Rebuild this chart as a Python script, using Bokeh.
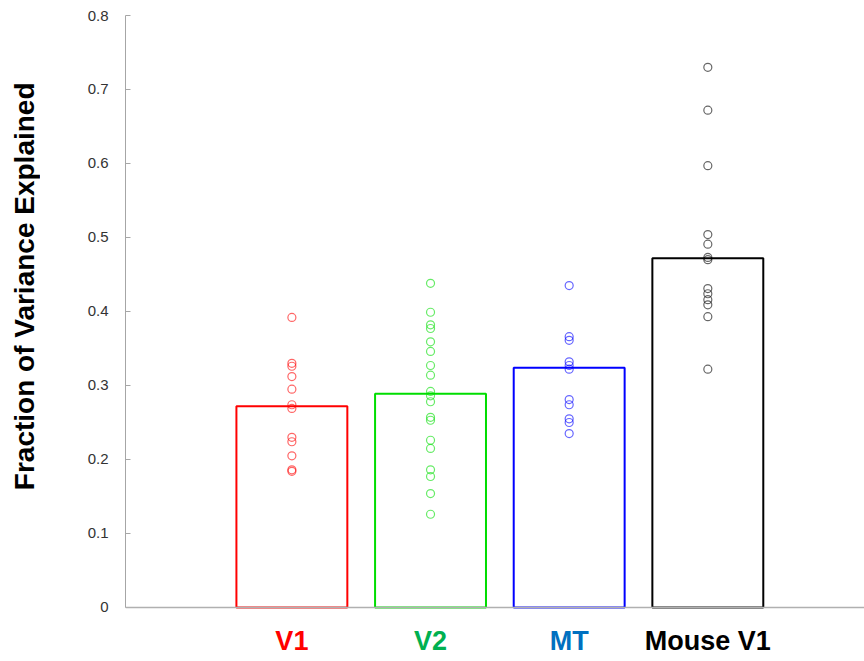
import math
from bokeh.plotting import figure
from bokeh.layouts import row
from bokeh.models import FixedTicker, Range1d, Span, ColumnDataSource
from bokeh.core.properties import value
from bokeh.embed import file_html
from bokeh.resources import INLINE

# ---- data ----
categories = ["V1", "V2", "MT", "Mouse V1"]
positions = [1, 2, 3, 4]
bar_means = [0.272, 0.289, 0.324, 0.472]
bar_colors = ["#ff0000", "#00dd00", "#0000ff", "#000000"]
label_colors = ["#ff0000", "#00b050", "#0070c0", "#000000"]

v1_points = [0.392, 0.330, 0.326, 0.312, 0.295, 0.274, 0.269, 0.230, 0.224, 0.205, 0.186, 0.184]
v2_points = [0.438, 0.399, 0.382, 0.377, 0.359, 0.346, 0.327, 0.314, 0.292, 0.286, 0.278,
             0.257, 0.253, 0.226, 0.215, 0.186, 0.177, 0.154, 0.126]
mt_points = [0.435, 0.366, 0.361, 0.332, 0.327, 0.322, 0.281, 0.274, 0.255, 0.250, 0.235]
mouse_points = [0.730, 0.672, 0.597, 0.504, 0.491, 0.473, 0.470, 0.431, 0.424, 0.416,
                0.409, 0.393, 0.322]
all_points = [v1_points, v2_points, mt_points, mouse_points]

y_ticks = [0, 0.1, 0.2, 0.3, 0.4, 0.5, 0.6, 0.7, 0.8]
y_title = "Fraction of Variance Explained"

FONT = "Liberation Sans"
Y_RANGE = (-0.073, 0.8)

# ---- narrow figure holding the rotated y-axis title ----
tfig = figure(width=40, height=661, output_backend="svg", toolbar_location=None,
              x_range=Range1d(0, 1), y_range=Range1d(*Y_RANGE),
              min_border_left=0, min_border_right=0, min_border_top=15,
              min_border_bottom=0)
tfig.axis.visible = False
tfig.grid.visible = False
tfig.outline_line_color = None
tfig.text(x=[0.6], y=[0.434], text=[y_title], angle=math.pi / 2,
          text_font=value(FONT), text_font_style="bold", text_font_size="28px",
          text_color="#000000", text_align="center", text_baseline="middle")

# ---- main chart ----
p = figure(width=824, height=661, output_backend="svg", toolbar_location=None,
           x_range=Range1d(-0.2, 5.13), y_range=Range1d(*Y_RANGE),
           min_border_left=85, min_border_top=15, min_border_bottom=0,
           min_border_right=0)
p.outline_line_color = None
p.grid.visible = False
p.xaxis.visible = False
p.background_fill_color = "white"
p.border_fill_color = "white"

ax = p.yaxis[0]
ax.ticker = FixedTicker(ticks=y_ticks)
ax.major_label_overrides = {0: "0"}
ax.bounds = (0, 0.8)
ax.axis_line_color = "#a6a6a6"
ax.major_tick_line_color = "#a6a6a6"
ax.major_tick_in = 5
ax.major_tick_out = 0
ax.minor_tick_line_color = None
ax.major_label_text_font = FONT
ax.major_label_text_font_size = "15px"
ax.major_label_text_color = "#333333"
ax.major_label_standoff = 17

# x baseline
p.add_layout(Span(location=0, dimension="width", line_color="#b0b0b0", line_width=1.5))

# bars
src = ColumnDataSource(dict(x=positions, top=bar_means, color=bar_colors))
p.vbar(x="x", top="top", bottom=0, width=0.8, source=src, fill_color=None,
       line_color="color", line_width=2)

# points
for pos, pts, col in zip(positions, all_points, bar_colors):
    p.scatter([pos] * len(pts), pts, marker="circle", size=8, fill_color=None,
              line_color=col, line_alpha=0.6, line_width=1.2)

# category labels
lab = ColumnDataSource(dict(x=positions, y=[-0.045] * 4, text=categories, color=label_colors))
p.text(x="x", y="y", text="text", source=lab, text_color="color",
       text_font=value(FONT), text_font_style="bold", text_font_size="27px",
       text_align="center", text_baseline="middle")

layout = row(tfig, p, spacing=0)
open("out.html", "w").write(file_html(layout, INLINE))
